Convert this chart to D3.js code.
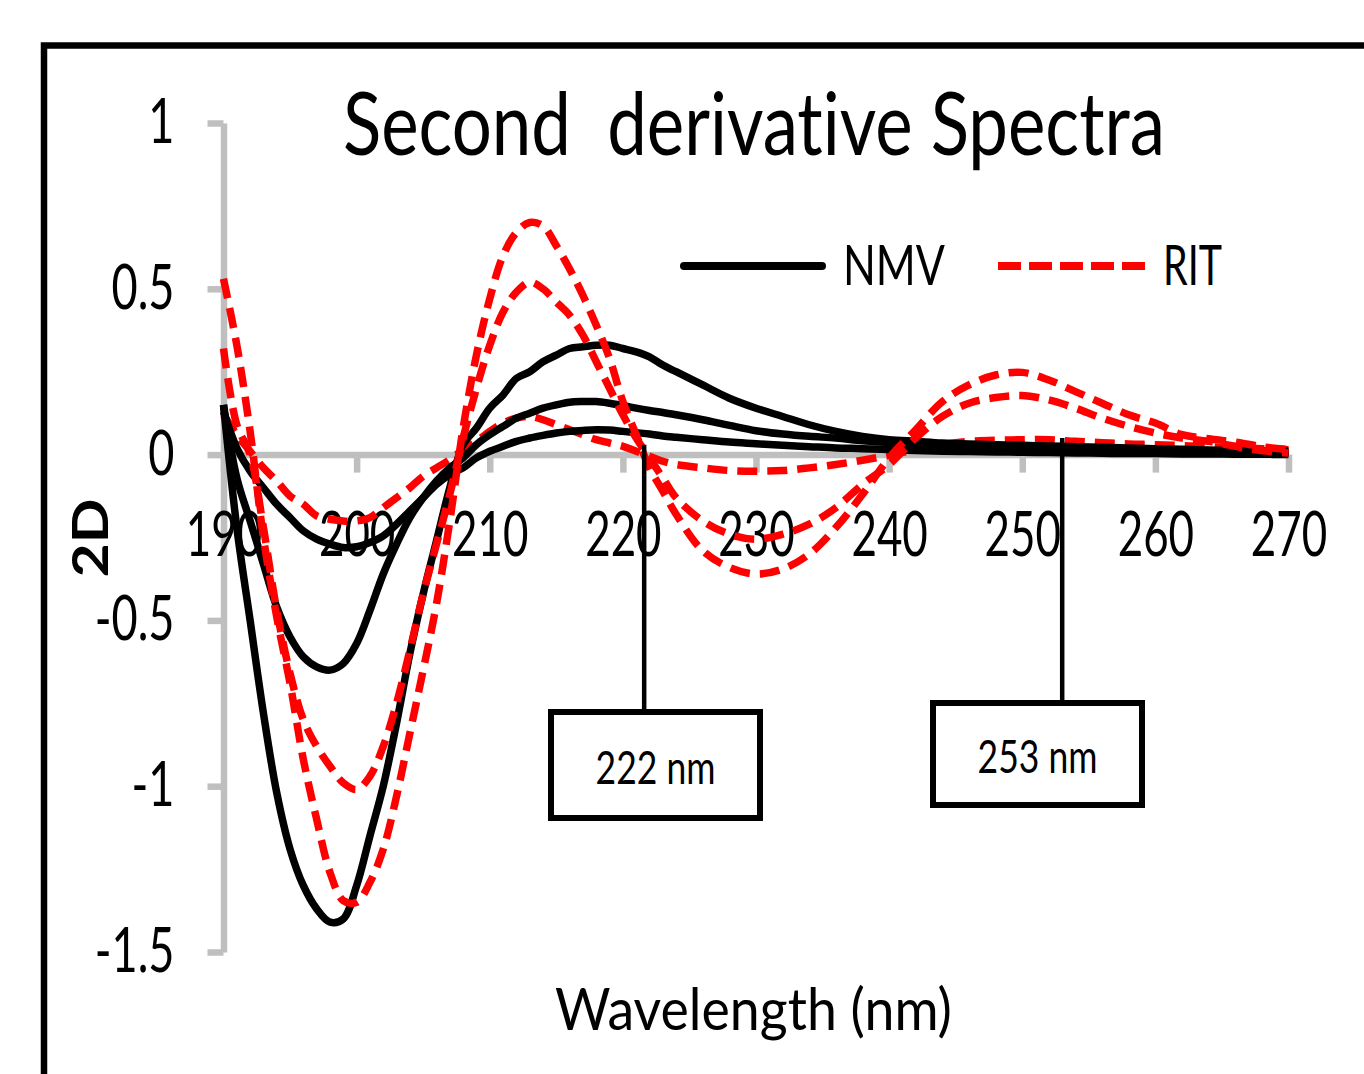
<!DOCTYPE html>
<html>
<head>
<meta charset="utf-8">
<script src="https://cdn.jsdelivr.net/npm/d3@7"></script>
<style>
  body { margin: 0; background: #fff; }
  text { font-family: Lato, "Open Sans", sans-serif; font-variant-ligatures: none; }
</style>
</head>
<body>
<div id="chart"></div>
<script>
// wavelength grid (nm)
const wl = [190,191,192,193,194,195,196,197,198,199,200,201,202,203,204,205,206,207,208,209,
  210,211,212,213,214,215,216,217,218,219,220,221,222,223,224,226,228,230,232,234,
  236,238,240,242,244,246,248,250,252,254,256,258,260,262,264,266,268,270]

// NMV second derivative curves
const nmv1 = [0.15,-0.22,-0.5,-0.78,-1.02,-1.19,-1.3,-1.37,-1.41,-1.4,-1.3,-1.15,-1.0,-0.81,-0.6,-0.42,-0.26,-0.1,0.03,0.08,
  0.14,0.18,0.23,0.25,0.28,0.3,0.32,0.325,0.33,0.33,0.32,0.31,0.295,0.27,0.25,0.21,0.17,0.14,0.115,0.09,
  0.07,0.055,0.045,0.04,0.035,0.032,0.03,0.028,0.026,0.024,0.022,0.02,0.018,0.016,0.014,0.012,0.011,0.01]
const nmv2 = [0.15,-0.07,-0.2,-0.33,-0.46,-0.55,-0.61,-0.64,-0.65,-0.63,-0.57,-0.47,-0.36,-0.27,-0.19,-0.13,-0.08,-0.04,-0.01,0.03,
  0.06,0.085,0.11,0.125,0.14,0.15,0.158,0.16,0.16,0.155,0.148,0.14,0.133,0.127,0.12,0.105,0.088,0.072,0.062,0.055,
  0.05,0.042,0.036,0.03,0.027,0.024,0.021,0.019,0.017,0.015,0.013,0.011,0.01,0.009,0.008,0.007,0.006,0.005]
const nmv3 = [0.13,0.02,-0.05,-0.1,-0.15,-0.19,-0.23,-0.255,-0.27,-0.28,-0.278,-0.265,-0.245,-0.21,-0.17,-0.13,-0.09,-0.06,-0.04,-0.01,
  0.01,0.025,0.04,0.05,0.058,0.065,0.07,0.073,0.075,0.074,0.07,0.066,0.062,0.056,0.052,0.045,0.038,0.033,0.028,0.024,
  0.02,0.018,0.015,0.012,0.01,0.009,0.008,0.007,0.006,0.005,0.004,0.003,0.003,0.002,0.002,0.001,0.001,0.0]

// RIT second derivative curves
const rit1 = [0.53,0.33,0.07,-0.25,-0.49,-0.69,-0.92,-1.1,-1.26,-1.345,-1.35,-1.29,-1.19,-1.03,-0.84,-0.65,-0.45,-0.2,0.08,0.3,
  0.47,0.6,0.67,0.7,0.69,0.63,0.56,0.48,0.39,0.29,0.16,0.06,-0.04,-0.11,-0.18,-0.29,-0.34,-0.36,-0.345,-0.3,
  -0.22,-0.12,-0.01,0.075,0.16,0.21,0.24,0.248,0.225,0.19,0.155,0.12,0.095,0.06,0.048,0.038,0.024,0.015]
const rit2 = [0.32,0.09,0.0,-0.22,-0.47,-0.66,-0.8,-0.88,-0.94,-0.99,-1.01,-0.97,-0.88,-0.75,-0.59,-0.42,-0.27,-0.12,0.05,0.2,
  0.33,0.43,0.49,0.52,0.5,0.46,0.42,0.36,0.28,0.2,0.12,0.05,-0.01,-0.07,-0.13,-0.2,-0.24,-0.255,-0.24,-0.21,
  -0.16,-0.09,-0.03,0.05,0.115,0.155,0.172,0.178,0.165,0.14,0.11,0.085,0.065,0.05,0.04,0.025,0.012,0.005]
const rit3 = [0.12,0.06,0.01,-0.04,-0.08,-0.125,-0.15,-0.185,-0.195,-0.2,-0.2,-0.19,-0.16,-0.13,-0.1,-0.065,-0.04,-0.015,0.015,0.04,
  0.07,0.095,0.11,0.115,0.105,0.09,0.075,0.06,0.045,0.035,0.025,0.01,-0.005,-0.02,-0.03,-0.04,-0.048,-0.05,-0.048,-0.04,
  -0.03,-0.017,-0.002,0.015,0.03,0.04,0.043,0.045,0.045,0.04,0.036,0.032,0.03,0.027,0.024,0.02,0.018,0.015]

const xTicks = [190,200,210,220,230,240,250,260,270]
const yTicks = [-1.5,-1,-0.5,0,0.5,1]

// callouts
const annWl = [221.6, 253]
const annTop = [0.03, 0.05]
const annText = ["222 nm", "253 nm"]

const width = 1364, height = 1074

const x = d3.scaleLinear().domain([190, 270]).range([223.5, 1288.5])
const y = d3.scaleLinear().domain([-1.5, 1]).range([952, 123])

const svg = d3.select("#chart").append("svg")
    .attr("width", width)
    .attr("height", height)

// squeeze a text horizontally around its anchor point
function squeeze(sel, k) {
  sel.each(function() {
    const t = d3.select(this)
    const x0 = +t.attr("x") || 0
    t.attr("transform", `translate(${x0},0) scale(${k},1) translate(${-x0},0)`)
  })
}
function fitText(g, target) {
  const t = g.select("text")
  const w = t.node().getComputedTextLength()
  t.attr("transform", `scale(${target / w},1)`)
}
function label(px, py, txt, size, target, anchor, extra) {
  const g = svg.append("g").attr("transform", `translate(${px},${py})` + (extra || ""))
  g.append("text")
    .attr("text-anchor", anchor || "start")
    .style("font-size", size + "px")
    .style("white-space", "pre")
    .text(txt)
  fitText(g, target)
  return g
}

// frame
svg.append("rect")
    .attr("x", 44).attr("y", 45.5)
    .attr("width", 1400).attr("height", 1100)
    .attr("fill", "none").attr("stroke", "#000").attr("stroke-width", 6.5)

// axes
const yAxis = svg.append("g")
    .attr("transform", `translate(${x(190)},0)`)
    .call(d3.axisLeft(y).tickValues(yTicks).tickSize(16).tickSizeOuter(0).tickPadding(33)
      .tickFormat(d => String(d)))
const xAxis = svg.append("g")
    .attr("transform", `translate(0,${y(0)})`)
    .call(d3.axisBottom(x).tickValues(xTicks).tickSize(18).tickSizeOuter(0).tickPadding(40)
      .tickFormat(d => String(d)))

for (const ax of [yAxis, xAxis]) {
  ax.attr("font-family", null).attr("font-size", null)
  ax.select(".domain").attr("stroke", "#bfbfbf").attr("stroke-width", 6.5)
  ax.selectAll(".tick line").attr("stroke", "#bfbfbf").attr("stroke-width", 6.5)
  ax.selectAll(".tick text").attr("fill", "#000").style("font-size", "61px")
}
squeeze(yAxis.selectAll(".tick text"), 0.74)
squeeze(xAxis.selectAll(".tick text"), 0.72)

// curves
const line = d3.line()
    .x((d, i) => x(wl[i]))
    .y(d => y(d))
    .curve(d3.curveCatmullRom.alpha(0.5))

const series = [
  {vals: rit3, color: "#ff0000", dash: "20,10"},
  {vals: nmv3, color: "#000", dash: null},
  {vals: nmv2, color: "#000", dash: null},
  {vals: nmv1, color: "#000", dash: null},
  {vals: rit2, color: "#ff0000", dash: "20,10"},
  {vals: rit1, color: "#ff0000", dash: "20,10"}
]

svg.append("g").selectAll("path")
  .data(series)
  .join("path")
    .attr("d", d => line(d.vals))
    .attr("fill", "none")
    .attr("stroke", d => d.color)
    .attr("stroke-width", 7.5)
    .attr("stroke-dasharray", d => d.dash)
    .attr("stroke-linejoin", "round")

// callout lines and boxes
const boxes = [
  {x: 551, y: 712, w: 209, h: 106},
  {x: 933, y: 703, w: 209, h: 102}
]
annWl.forEach((w, i) => {
  const b = boxes[i]
  svg.append("line")
      .attr("x1", x(w)).attr("x2", x(w))
      .attr("y1", y(annTop[i])).attr("y2", b.y)
      .attr("stroke", "#000").attr("stroke-width", 4.5)
  svg.append("rect")
      .attr("x", b.x).attr("y", b.y).attr("width", b.w).attr("height", b.h)
      .attr("fill", "#fff").attr("stroke", "#000").attr("stroke-width", 6)
  label(b.x + b.w / 2, b.y + b.h / 2 + 19, annText[i], 46, 120, "middle")
})

// title and axis titles
label(343, 155, "Second  derivative Spectra", 88, 822, "start")
label(555, 1030, "Wavelength (nm)", 59, 397, "start")
label(108, 538, "2D", 50, 79, "middle", " rotate(-90)").select("text").style("font-weight", "bold")

// legend
svg.append("line")
    .attr("x1", 684).attr("x2", 822).attr("y1", 266).attr("y2", 266)
    .attr("stroke", "#000").attr("stroke-width", 8).attr("stroke-linecap", "round")
label(843, 285, "NMV", 56, 102, "start")
svg.append("line")
    .attr("x1", 998).attr("x2", 1145).attr("y1", 266).attr("y2", 266)
    .attr("stroke", "#ff0000").attr("stroke-width", 8).attr("stroke-dasharray", "23,8")
label(1163, 285, "RIT", 56, 59, "start")
</script>
</body>
</html>
